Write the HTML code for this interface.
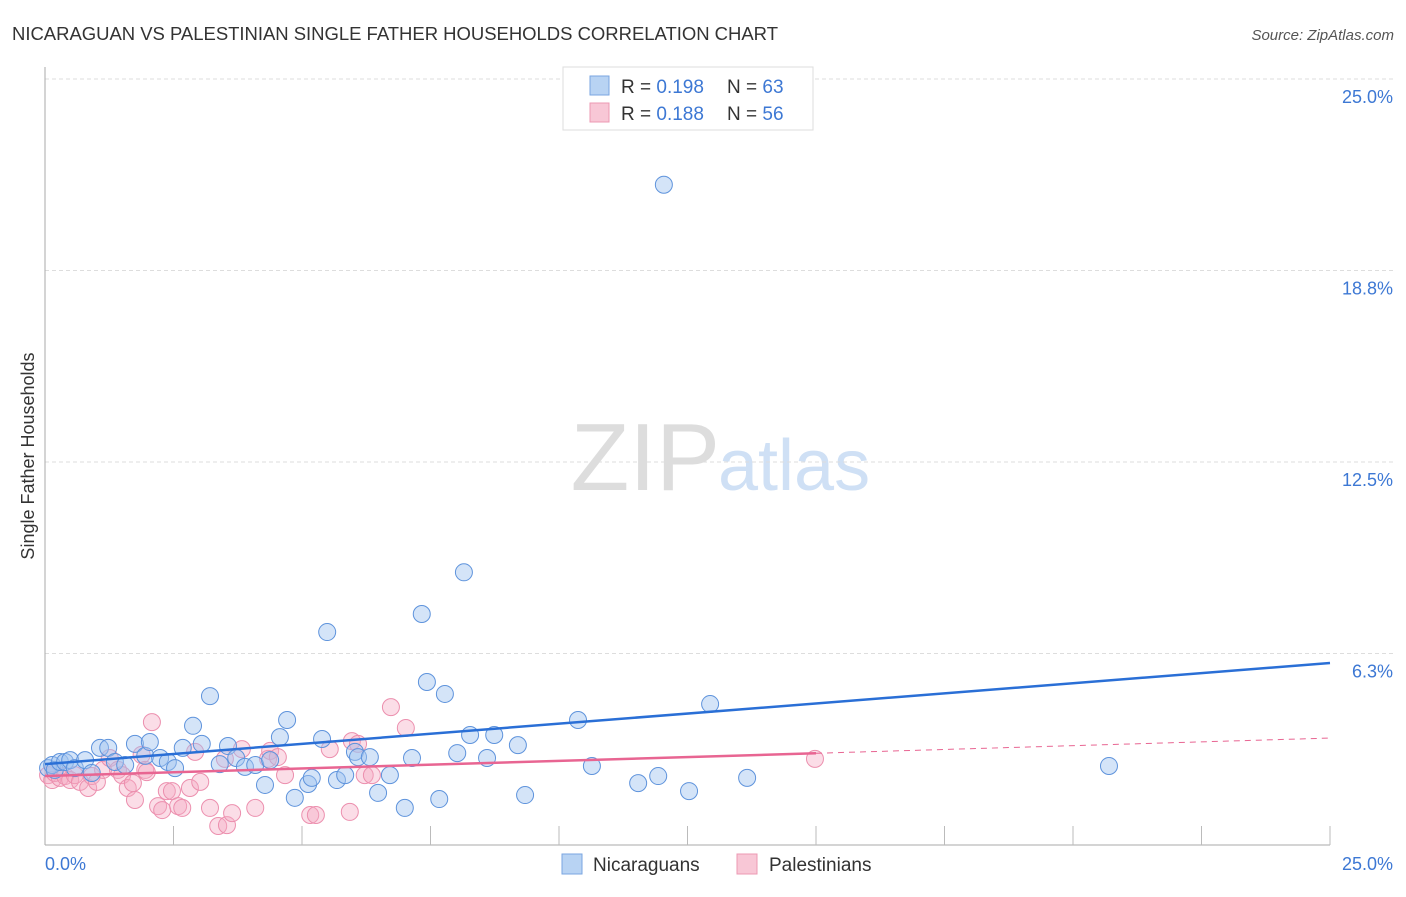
<!DOCTYPE html>
<html><head><meta charset="utf-8"><style>
body{margin:0;background:#fff;font-family:"Liberation Sans",sans-serif}
svg text{font-family:"Liberation Sans",sans-serif}
</style></head><body>
<svg id="c" width="1406" height="892">
<text x="12" y="40" font-size="18.5" fill="#333" textLength="766">NICARAGUAN VS PALESTINIAN SINGLE FATHER HOUSEHOLDS CORRELATION CHART</text>
<text x="1394" y="40" font-size="15" fill="#555" font-style="italic" text-anchor="end">Source: ZipAtlas.com</text>
<text x="720" y="490" font-size="96" fill="#ddd" font-family="Liberation Serif" text-anchor="end">ZIP</text>
<text x="718" y="490" font-size="72" fill="#cfe0f5">atlas</text>
<text transform="translate(34,456) rotate(-90)" font-size="18" fill="#333" text-anchor="middle">Single Father Households</text>
<g id="grid"></g><g id="pts"></g><g id="trend"></g>
<g>
<rect x="563" y="67" width="250" height="63" fill="#fff" stroke="#ddd"/>
<rect x="590" y="76" width="19" height="19" fill="#b8d3f3" stroke="#7aa6e0"/>
<rect x="590" y="103" width="19" height="19" fill="#f8c7d6" stroke="#ec98b3"/>
<text x="621" y="93" font-size="19" fill="#333">R = <tspan fill="#3d78d4">0.198</tspan></text>
<text x="727" y="93" font-size="19" fill="#333">N = <tspan fill="#3d78d4">63</tspan></text>
<text x="621" y="120" font-size="19" fill="#333">R = <tspan fill="#3d78d4">0.188</tspan></text>
<text x="727" y="120" font-size="19" fill="#333">N = <tspan fill="#3d78d4">56</tspan></text>
</g>
<g>
<rect x="562" y="854" width="20" height="20" fill="#b8d3f3" stroke="#7aa6e0"/>
<text x="593" y="871" font-size="19" fill="#333">Nicaraguans</text>
<rect x="737" y="854" width="20" height="20" fill="#f8c7d6" stroke="#ec98b3"/>
<text x="769" y="871" font-size="19" fill="#333">Palestinians</text>
</g>
</svg>
<script>
const yTicks=[6.25,12.5,18.75,25];
const yTickLabels=["6.3%","12.5%","18.8%","25.0%"];
const xTickLabels=["0.0%","25.0%"];
const nicX=[0.06,0.14,0.19,0.29,0.39,0.49,0.58,0.78,0.91,1.07,1.23,1.36,1.56,1.75,1.95,2.04,2.24,2.39,2.53,2.68,2.88,3.05,3.21,3.4,3.56,3.72,3.89,4.09,4.28,4.38,4.57,4.71,4.86,5.12,5.19,5.39,5.49,5.68,5.84,6.03,6.09,6.32,6.48,6.71,7.0,7.14,7.33,7.43,7.67,7.78,8.02,8.15,8.27,8.6,8.74,9.2,9.34,10.37,10.64,11.54,11.93,12.04,12.53,12.94,13.66,20.7];
const nicY=[2.51,2.61,2.45,2.71,2.71,2.77,2.51,2.77,2.35,3.17,3.17,2.71,2.61,3.3,2.91,3.36,2.84,2.71,2.51,3.17,3.89,3.3,4.86,2.64,3.23,2.84,2.55,2.61,1.96,2.77,3.52,4.08,1.54,1.99,2.19,3.46,6.95,2.12,2.28,3.04,2.87,2.87,1.7,2.28,1.21,2.84,7.54,5.32,1.5,4.93,3.0,8.9,3.59,2.84,3.59,3.26,1.63,4.08,2.58,2.02,2.25,21.55,1.76,4.6,2.19,2.58];
const palX=[0.06,0.14,0.19,0.29,0.39,0.49,0.58,0.68,0.84,0.91,1.01,1.13,1.26,1.42,1.5,1.61,1.71,1.75,1.88,1.95,1.98,2.08,2.2,2.28,2.37,2.47,2.59,2.67,2.82,2.92,3.02,3.21,3.37,3.5,3.54,3.64,3.83,4.09,4.34,4.38,4.53,4.67,5.16,5.27,5.54,5.93,5.97,6.09,6.22,6.36,6.73,7.02,14.98];
const palY=[2.28,2.12,2.35,2.19,2.25,2.12,2.28,2.06,1.86,2.25,2.06,2.45,2.84,2.45,2.28,1.86,2.02,1.47,2.94,2.45,2.38,4.01,1.27,1.14,1.76,1.76,1.27,1.21,1.86,3.04,2.06,1.21,0.62,2.81,0.65,1.04,3.13,1.21,2.81,3.07,2.87,2.28,0.98,0.98,3.13,1.08,3.39,3.3,2.28,2.28,4.5,3.82,2.81];
const nicTrend=[2.64,5.94];
const palTrend=[2.25,3.49];
const palSolidEnd=15.0;
const NS="http://www.w3.org/2000/svg";
const sx=v=>45+v*51.4, sy=v=>845-v*30.64;
function mk(tag,attrs,parent){const e=document.createElementNS(NS,tag);for(const k in attrs)e.setAttribute(k,attrs[k]);parent.appendChild(e);return e;}
const grid=document.getElementById('grid');
yTicks.forEach((t,i)=>{
 const l=mk('line',{x1:45,x2:1395,y1:sy(t),y2:sy(t),stroke:'#ddd','stroke-dasharray':'4,3'},grid);
 
 
 const tx=mk('text',{x:1393,y:sy(t)+24,'font-size':18,fill:'#3d78d4','text-anchor':'end'},grid);
 tx.textContent=yTickLabels[i];
 
 
});
const ax=mk('line',{x1:45,x2:45,y1:67,y2:845,stroke:'#aaa'},grid);


const bx=mk('line',{x1:45,x2:1330,y1:845,y2:845,stroke:'#aaa'},grid);


for(let i=1;i<=10;i++){const x=45+i*128.5;
 const t=mk('line',{x1:x,x2:x,y1:826,y2:845,stroke:'#bbb'},grid);
 
 }
[[0,'start',45],[25,'end',1393]].forEach((a,i)=>{
 const t=mk('text',{x:a[2],y:870,'font-size':18,fill:'#3d78d4','text-anchor':a[1]},grid);
 t.textContent=xTickLabels[i];
 
 });
const pts=document.getElementById('pts');
palX.forEach((x,i)=>{const c=mk('circle',{cx:sx(x),cy:sy(palY[i]),r:8.5,fill:'rgba(246,170,195,0.4)',stroke:'#ec8fae','stroke-width':1},pts);
 
 });
nicX.forEach((x,i)=>{const c=mk('circle',{cx:sx(x),cy:sy(nicY[i]),r:8.5,fill:'rgba(160,196,240,0.45)',stroke:'#5e93dc','stroke-width':1},pts);
 
 });
const tr=document.getElementById('trend');
const pAt=x=>palTrend[0]+(palTrend[1]-palTrend[0])*x/25;
const t1=mk('line',{x1:sx(0),y1:sy(nicTrend[0]),x2:sx(25),y2:sy(nicTrend[1]),stroke:'#2a6fd6','stroke-width':2.5},tr);


const t2=mk('line',{x1:sx(0),y1:sy(pAt(0)),x2:sx(palSolidEnd),y2:sy(pAt(palSolidEnd)),stroke:'#e86592','stroke-width':2.5},tr);


const t3=mk('line',{x1:sx(palSolidEnd),y1:sy(pAt(palSolidEnd)),x2:sx(25),y2:sy(pAt(25)),stroke:'#e86592','stroke-width':1,'stroke-dasharray':'6,5'},tr);


</script>
</body></html>
